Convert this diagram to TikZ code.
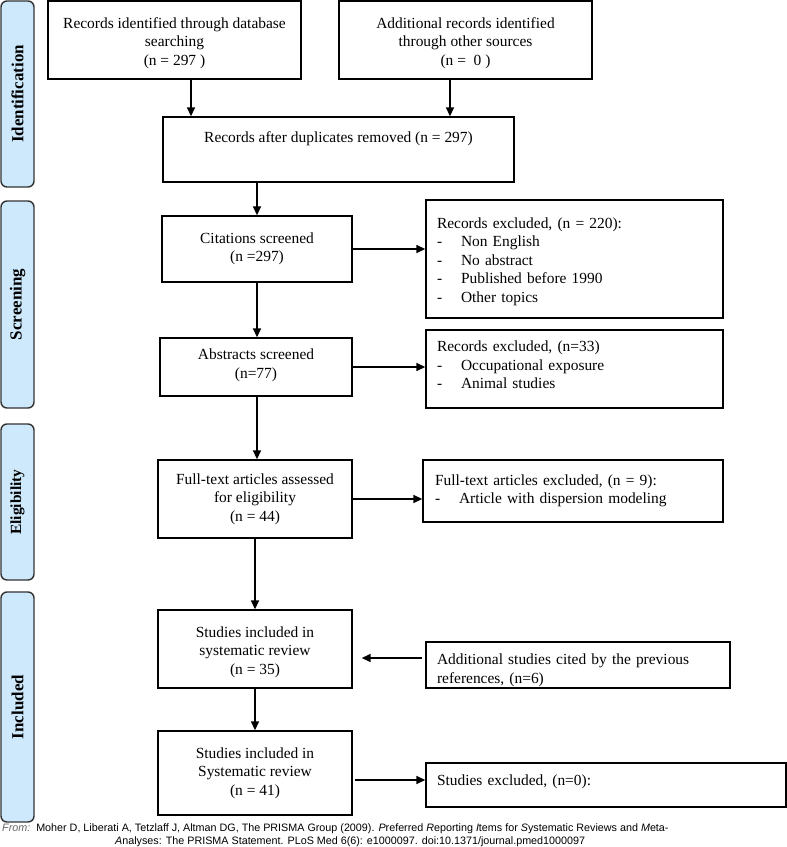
\documentclass[tikz,border=0pt]{standalone}
\usepackage{fontspec}
\setmainfont{Liberation Serif}
\newfontfamily\footfont{Liberation Sans}
\usetikzlibrary{arrows.meta}
\definecolor{barblue}{HTML}{CDE9FB}
\definecolor{bardraw}{HTML}{333333}
\definecolor{fromgray}{HTML}{666666}
\newcommand\boxfs{\fontsize{15.5}{18.5}\selectfont}
\newcommand\barfs{\fontsize{17}{20}\selectfont\bfseries}
\newcommand\footfs{\footfont\fontsize{10.8}{13}\selectfont}
\newcommand\dashitem[1]{\makebox[24bp][l]{-}#1}
\tikzset{
  box/.style={draw=black, line width=1.4bp, inner sep=0pt, font=\boxfs, align=center},
  lbox/.style={box, align=left, inner xsep=11bp},
  bar/.style={draw=bardraw, fill=barblue, line width=1.4bp, rounded corners=6bp,
    inner sep=0pt, rotate=90, minimum height=33bp, font=\barfs},
  arr/.style={draw=black, line width=1.6bp, -{Triangle[length=9bp,width=8bp]}},
  foot/.style={inner sep=0pt, font=\footfs}
}
\begin{document}
\begin{tikzpicture}[x=1bp,y=-1bp]
\useasboundingbox (0,0) rectangle (787,847);

% phase bars
\node[bar, minimum width=186bp] (bid) at (17.5,94) {Identification};
\node[bar, minimum width=207bp] (bsc) at (17.5,304.5) {Screening};
\node[bar, minimum width=156bp, font=\fontsize{15.5}{18}\selectfont\bfseries] (bel) at (17.5,502) {Eligibility};
\node[bar, minimum width=230bp] (bin) at (17.5,707) {Included};

% boxes
\node[box, minimum width=253bp, minimum height=78bp] (A) at (174.5,40)
  {\mbox{}\\[-1.5bp]Records identified through database\\searching\\(n = 297 )};
\node[box, minimum width=253bp, minimum height=78bp] (B) at (465.5,40)
  {\mbox{}\\[-1.5bp]Additional records identified\\through other sources\\(n =\ \ 0 )};
\node[box, minimum width=351bp, minimum height=65bp] (C) at (338.5,149.5)
  {Records after duplicates removed (n = 297)\\[6.5bp]\mbox{}};
\node[box, minimum width=190bp, minimum height=66bp] (D) at (257,249)
  {Citations screened\\(n =297)};
\node[lbox, text width=275bp, minimum height=118bp] (E) at (574.5,259)
  {\mbox{}\\[-2.5bp]Records excluded, (n = 220):\\\dashitem{Non English}\\\dashitem{No abstract}\\\dashitem{Published before 1990}\\\dashitem{Other topics}};
\node[box, minimum width=192bp, minimum height=58bp] (F) at (256,367)
  {Abstracts screened\\(n=77)\\[-12bp]\mbox{}};
\node[lbox, text width=275bp, minimum height=78bp] (G) at (574.5,369)
  {Records excluded, (n=33)\\\dashitem{Occupational exposure}\\\dashitem{Animal studies}\\[-10.5bp]\mbox{}};
\node[box, minimum width=194bp, minimum height=78bp] (H) at (255,499)
  {Full-text articles assessed\\for eligibility\\(n = 44)};
\node[lbox, inner xsep=12bp, text width=276bp, minimum height=62bp] (I) at (573,491)
  {Full-text articles excluded, (n = 9):\\\dashitem{Article with dispersion modeling}};
\node[box, minimum width=194bp, minimum height=78bp] (J) at (255,649)
  {\mbox{}\\[-1.5bp]Studies included in\\systematic review\\(n = 35)};
\node[lbox, text width=282bp, minimum height=46bp] (K) at (578,665)
  {\mbox{}\\[2.5bp]Additional studies cited by the previous\\references, (n=6)};
\node[box, minimum width=194bp, minimum height=84bp] (L) at (255,773)
  {Studies included in\\Systematic review\\(n = 41)};
\node[lbox, text width=338bp, minimum height=44bp] (M) at (606,785)
  {Studies excluded, (n=0):\\[-8bp]\mbox{}};

% connectors
\draw[arr] ([shift={(16.5,0)}]A.south) -- ([shift={(16.5,0)}]A.south |- C.north);
\draw[arr] ([shift={(-15.5,0)}]B.south) -- ([shift={(-15.5,0)}]B.south |- C.north);
\draw[arr] (C.south -| D.north) -- (D.north);
\draw[arr] (D.east) -- (D.east -| E.west);
\draw[arr] (D.south) -- (D.south |- F.north);
\draw[arr] (F.east) -- (F.east -| G.west);
\draw[arr] ([shift={(1,0)}]F.south) -- ([shift={(1,0)}]F.south |- H.north);
\draw[arr] (H.east) -- (H.east -| I.west);
\draw[arr] (H.south) -- (J.north);
\draw[arr] ([shift={(-3,-7)}]K.west) -- ([shift={(9,-7)}]K.west -| J.east);
\draw[arr] (J.south) -- (L.north);
\draw[arr] ([shift={(2,7)}]L.east) -- ([shift={(0,7)}]L.east -| M.west);

% footer
\node[foot, anchor=base west] (f1) at (2,831)
  {{\color{fromgray}\itshape From:}\ \ Moher D, Liberati A, Tetzlaff J, Altman DG, The PRISMA Group (2009). \textit{P}referred \textit{R}eporting \textit{I}tems for \textit{S}ystematic Reviews and \textit{M}eta-};
\node[foot, anchor=base west] (f2) at (115,844)
  {\textit{A}nalyses: The PRISMA Statement. PLoS Med 6(6): e1000097. doi:10.1371/journal.pmed1000097};
\end{tikzpicture}
\end{document}
